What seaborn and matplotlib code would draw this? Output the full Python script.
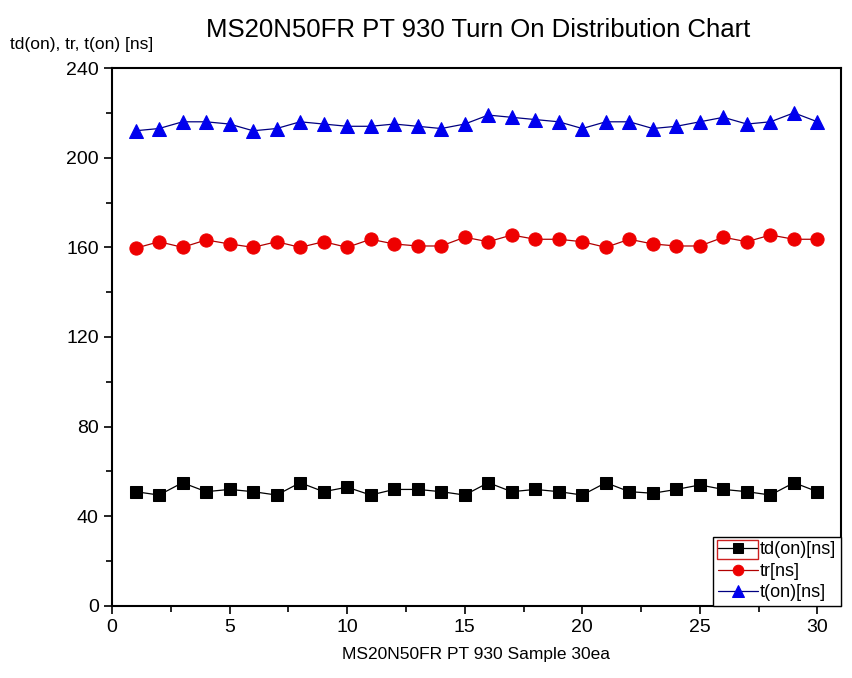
import pandas as pd
import matplotlib
matplotlib.use('Agg')
import matplotlib.pyplot as plt
import seaborn as sns
from matplotlib.ticker import MultipleLocator
from matplotlib.patches import Rectangle

# sample number 1..30
samples = list(range(1, 31))

td_on = [51, 49.5, 55, 51, 52, 51, 49.5, 55, 51, 53, 49.5, 52, 52, 51, 49.5,
         55, 51, 52, 51, 49.5, 55, 51, 50.3, 52, 54, 52, 51, 49.5, 55, 51]
tr = [159.6, 162.5, 160, 163.3, 161.5, 160, 162.5, 160, 162.5, 160, 163.6, 161.5, 160.6, 160.6, 164.5,
      162.5, 165.5, 163.6, 163.6, 162.5, 160, 163.6, 161.5, 160.6, 160.6, 164.5, 162.5, 165.5, 163.6, 163.6]
t_on = [212, 213, 216, 216, 215, 212, 213, 216, 215, 214, 214, 215, 214, 213, 215,
        219, 218, 217, 216, 213, 216, 216, 213, 214, 216, 218, 215, 216, 220, 216]

series_names = ['td(on)[ns]', 'tr[ns]', 't(on)[ns]']

df = pd.DataFrame({'sample': samples, series_names[0]: td_on,
                   series_names[1]: tr, series_names[2]: t_on})

sns.set_style('ticks')
plt.rcParams['font.family'] = ['Liberation Sans', 'DejaVu Sans']
plt.rcParams['text.color'] = 'black'
plt.rcParams['xtick.color'] = 'black'
plt.rcParams['ytick.color'] = 'black'
plt.rcParams['axes.labelcolor'] = 'black'

fig = plt.figure(figsize=(8.53, 6.78), dpi=100)
ax = fig.add_axes([0.1313, 0.1062, 0.8546, 0.7935])

# line colour, marker face, marker, marker size
styles = [('black', 'black', 's', 8.5),
          ('#b00000', '#ee0000', 'o', 9.5),
          ('#000080', '#0000ee', '^', 10.5)]

for name, (lc, mc, mk, ms) in zip(series_names, styles):
    sns.lineplot(data=df, x='sample', y=name, ax=ax, color=lc, linewidth=0.9,
                 marker=mk, markersize=ms, markerfacecolor=mc, markeredgecolor=mc,
                 label=name)

ax.set_xlim(0, 31)
ax.set_ylim(0, 240)
ax.xaxis.set_major_locator(MultipleLocator(5))
ax.xaxis.set_minor_locator(MultipleLocator(2.5))
ax.yaxis.set_major_locator(MultipleLocator(40))
ax.yaxis.set_minor_locator(MultipleLocator(20))
ax.tick_params(which='major', direction='out', length=6, width=1.2, labelsize=14,
               top=False, right=False)
ax.tick_params(which='minor', direction='out', length=4, width=1.2, top=False, right=False)
for sp in ax.spines.values():
    sp.set_visible(True)
    sp.set_linewidth(1.5)
    sp.set_color('black')

ax.set_xlabel('MS20N50FR PT 930 Sample 30ea', fontsize=12.5, labelpad=8)
ax.set_ylabel('')
fig.text(0.012, 0.934, 'td(on), tr, t(on) [ns]', fontsize=12.5, ha='left', va='center')
fig.text(0.561, 0.956, 'MS20N50FR PT 930 Turn On Distribution Chart', fontsize=18.5,
         ha='center', va='center')

leg = ax.legend(loc='lower right', bbox_to_anchor=(1.0, 0.0), fontsize=13,
                frameon=True, fancybox=False, framealpha=1, edgecolor='black',
                borderpad=0.25, labelspacing=0.25, handlelength=2.2, handletextpad=0.15,
                borderaxespad=0, markerscale=0.8)
leg.get_frame().set_linewidth(1.0)

# red selection box around the first legend handle, as in the original
fig.canvas.draw()
t0 = leg.get_texts()[0].get_window_extent()
fr = leg.get_frame().get_window_extent()
x0 = fr.x0 + 4
x1 = t0.x0 - 2
y0 = t0.y0 - 1
y1 = t0.y1 + 1
inv = fig.transFigure.inverted()
(fx0, fy0), (fx1, fy1) = inv.transform([(x0, y0), (x1, y1)])
fig.patches.append(Rectangle((fx0, fy0), fx1 - fx0, fy1 - fy0, transform=fig.transFigure,
                             fill=False, edgecolor='#cc2020', linewidth=1.0, zorder=10))

fig.savefig('out.png', dpi=100)
